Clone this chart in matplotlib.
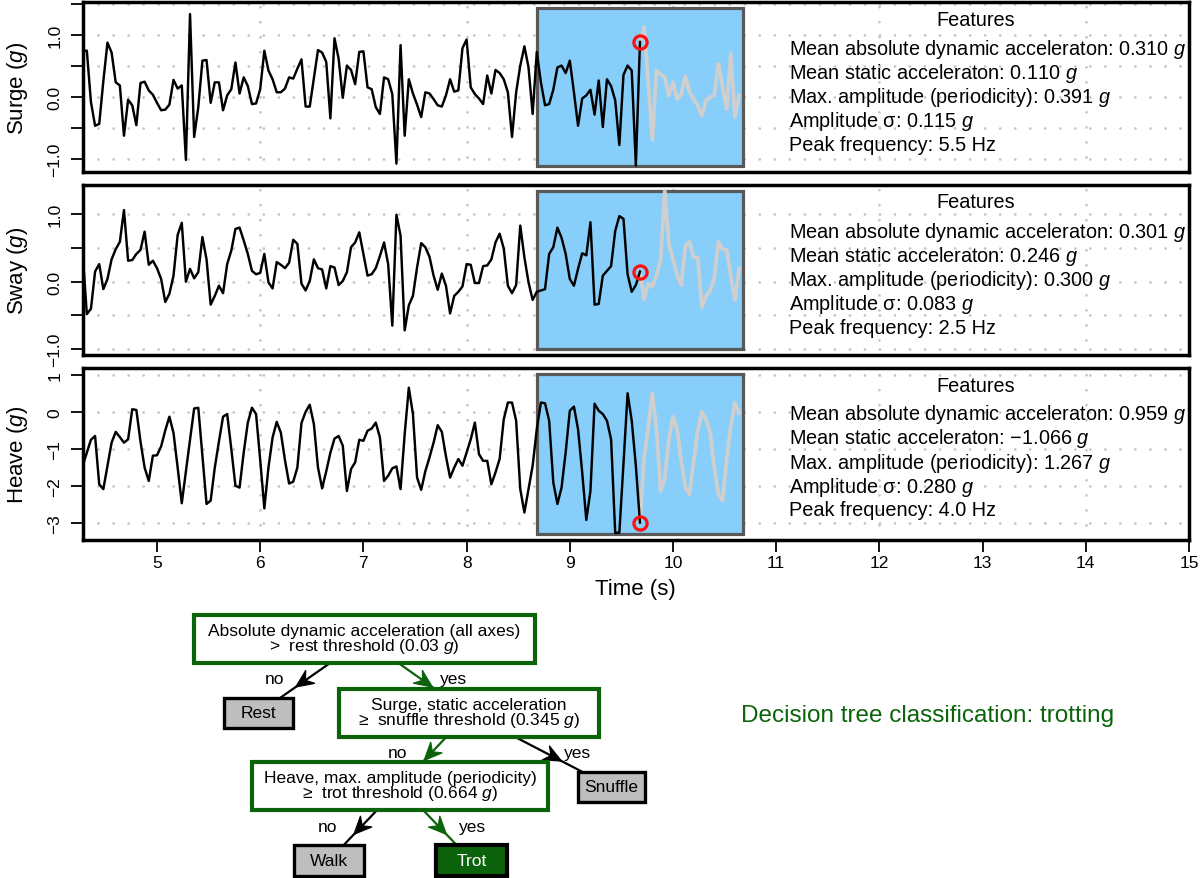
import numpy as np
import matplotlib
matplotlib.use("Agg")
import matplotlib.pyplot as plt
from matplotlib.patches import Rectangle, Polygon
import matplotlib.transforms as mtransforms

plt.rcParams['font.family'] = ['Liberation Sans', 'DejaVu Sans']
plt.rcParams['mathtext.fontset'] = 'custom'
plt.rcParams['mathtext.rm'] = 'Liberation Sans'
plt.rcParams['mathtext.it'] = 'Liberation Sans:italic'
plt.rcParams['mathtext.bf'] = 'Liberation Sans:bold'

# ---------------- data ----------------
t_start = 4.28
sample_interval = 0.04
current_index = 135          # red circle / end of past data
window_first_index = 110     # start of 2 s window
window_length = 50

surge = [0.74, 0.74, -0.09, -0.47, -0.44, 0.25, 0.87, 0.71, 0.23, 0.18,
         -0.63, -0.05, -0.14, -0.46, 0.22, 0.24, 0.10, 0.03, -0.10, -0.22,
         -0.21, -0.13, 0.27, 0.13, 0.18, -1.02, 1.33, -0.65, -0.17, 0.58,
         0.59, -0.10, 0.23, 0.23, -0.22, 0.02, 0.12, 0.55, 0.05, 0.31,
         0.17, -0.12, -0.11, 0.12, 0.74, 0.42, 0.28, 0.07, 0.07, 0.13,
         0.31, 0.29, 0.45, 0.60, -0.16, -0.16, 0.30, 0.75, 0.71, 0.56,
         -0.35, 0.94, 0.61, -0.02, 0.50, 0.43, 0.20, 0.72, 0.73, 0.15,
         0.12, -0.17, -0.28, 0.31, 0.28, 0.04, -1.08,
         0.83, -0.63, 0.28, 0.05, -0.13, -0.33, 0.07, 0.05, -0.04, -0.14,
         -0.16, 0.02, 0.28, 0.08, 0.10, 0.78, 0.92, 0.15, 0.04, -0.03,
         -0.12, 0.34, 0.05, 0.43, 0.38, 0.28, 0.07, -0.65, 0.07, 0.50,
         0.81, 0.47, -0.28, 0.72, 0.23, -0.14, -0.12, 0.11, 0.47, 0.50,
         0.38, 0.58, 0.07, -0.47, -0.03, 0.02, 0.11, -0.29, 0.26, -0.49,
         0.28, 0.17, -0.06, -0.78, 0.35, 0.50, 0.42, -1.11, 0.88,
         1.12, 0.23, -0.69, 0.42, 0.36, 0.31, 0.02, 0.23, -0.04, 0.04,
         0.33, 0.07, -0.04, -0.14, -0.31, -0.06, -0.01, 0.02, 0.53, 0.15,
         -0.20, 0.69, -0.33, 0.02]

sway = [0.41, -0.48, -0.40, 0.15, 0.26, -0.11, 0.04, 0.33, 0.48, 0.59,
        1.06, 0.31, 0.32, 0.41, 0.47, 0.74, 0.25, 0.31, 0.20, 0.04,
        -0.30, -0.18, 0.09, 0.69, 0.87, 0.00, 0.19, 0.05, 0.14, 0.66,
        0.33, -0.34, -0.21, -0.06, -0.17, 0.26, 0.46, 0.78, 0.80, 0.61,
        0.41, 0.16, 0.11, 0.13, 0.41, -0.01, -0.10, 0.29, 0.25, 0.20,
        0.28, 0.62, 0.56, -0.03, -0.13, 0.01, 0.33, 0.20, 0.18, -0.10,
        0.23, 0.21, -0.05, 0.01, 0.14, 0.51, 0.58, 0.73, 0.41, 0.09,
        0.11, 0.20, 0.38, 0.58, 0.26, -0.65, 0.99,
        0.68, -0.72, -0.35, -0.21, 0.21, 0.57, 0.51, 0.37, 0.09, -0.12,
        0.12, -0.06, -0.47, -0.21, -0.15, -0.07, 0.26, 0.25, -0.02, -0.02,
        0.23, 0.24, 0.33, 0.58, 0.71, 0.49, -0.06, -0.17, -0.05, 0.83,
        0.36, -0.01, -0.27, -0.15, -0.13, -0.11, 0.41, 0.51, 0.80, 0.65,
        0.41, 0.04, -0.06, 0.19, 0.42, 0.39, 0.88, -0.34, -0.33, 0.09,
        0.16, 0.23, 0.75, 0.97, 0.93, 0.11, -0.15, -0.05, 0.15,
        -0.26, -0.03, -0.07, 0.09, 0.33, 1.34, 0.56, 0.33, 0.09, -0.05,
        0.53, 0.59, 0.36, 0.36, -0.38, -0.21, -0.13, 0.06, 0.59, 0.48,
        0.47, 0.09, -0.27, 0.19]

heave = [-1.45, -1.10, -0.75, -0.65, -1.95, -2.08, -1.45, -0.83, -0.54, -0.68,
         -0.83, -0.74, 0.07, 0.05, -0.80, -1.50, -1.86, -1.18, -1.17, -0.93,
         -0.50, -0.13, -0.57, -1.50, -2.46, -1.60, -0.75, 0.09, 0.11, -1.20,
         -2.48, -2.39, -1.50, -0.80, -0.13, -0.06, -1.00, -1.99, -2.04, -1.10,
         -0.29, 0.11, -0.06, -1.30, -2.60, -1.50, -0.69, -0.27, -0.56, -1.30,
         -1.93, -1.88, -1.50, -0.30, 0.00, 0.19, -0.33, -1.50, -2.06, -1.60,
         -1.10, -0.72, -0.65, -0.91, -2.13, -1.54, -1.36, -0.75, -0.78, -0.51,
         -0.45, -0.29, -0.69, -1.86, -1.72, -1.52, -1.47,
         -2.08, -0.60, 0.65, -0.06, -1.77, -2.10, -1.60, -1.23, -0.83, -0.36,
         -0.54, -1.20, -1.77, -1.50, -1.27, -1.45, -1.09, -0.74, -0.29, -1.14,
         -1.32, -1.32, -1.95, -1.63, -1.27, -0.20, 0.25, 0.25, -0.24, -2.08,
         -2.71, -2.08, -1.45, -0.47, 0.25, 0.23, -0.24, -1.90, -2.48, -2.04,
         -1.09, 0.03, 0.14, -0.47, -1.63, -2.91, -2.13, 0.22, 0.03, -0.06,
         -0.24, -0.74, -3.26, -3.25, -1.40, 0.50, -0.24, -1.45, -2.98,
         -1.23, -0.42, 0.50, -0.47, -2.13, -1.81, -0.74, -0.13, -0.47, -1.32,
         -2.04, -2.22, -1.32, -0.51, 0.00, -0.20, -0.56, -1.50, -2.22, -2.39,
         -1.27, -0.38, 0.25, -0.04]

axis_names = ["Surge", "Sway", "Heave"]
feature_names = ["Mean absolute dynamic acceleraton", "Mean static acceleraton",
                 "Max. amplitude (periodicity)", "Amplitude \u03c3", "Peak frequency"]
feature_units = ["$g$", "$g$", "$g$", "$g$", "Hz"]
surge_features = ["0.310", "0.110", "0.391", "0.115", "5.5"]
sway_features = ["0.301", "0.246", "0.300", "0.083", "2.5"]
heave_features = ["0.959", "\u22121.066", "1.267", "0.280", "4.0"]

surge_yticks = [-1.0, -0.5, 0.0, 0.5, 1.0, 1.5]
surge_yticklabels = ["\u22121.0", "", "0.0", "", "1.0", ""]
sway_yticks = [-1.0, -0.5, 0.0, 0.5, 1.0]
sway_yticklabels = ["\u22121.0", "", "0.0", "", "1.0"]
heave_yticks = [-3, -2, -1, 0, 1]
heave_yticklabels = ["\u22123", "\u22122", "\u22121", "0", "1"]
ylims = [(-1.21, 1.52), (-1.08, 1.43), (-3.45, 1.18)]
xlim = (4.28, 15.0)
x_ticks = [5, 6, 7, 8, 9, 10, 11, 12, 13, 14, 15]
x_grid = [6, 8, 10, 12, 14]

# decision tree
tree_nodes = {
    "root": "Absolute dynamic acceleration (all axes)\n>  rest threshold (0.03 $g$)",
    "rest": "Rest",
    "surge": "Surge, static acceleration\n\u2265  snuffle threshold (0.345 $g$)",
    "snuffle": "Snuffle",
    "heave": "Heave, max. amplitude (periodicity)\n\u2265  trot threshold (0.664 $g$)",
    "walk": "Walk",
    "trot": "Trot",
}
tree_edges = [("root", "rest", "no"), ("root", "surge", "yes"),
              ("surge", "heave", "no"), ("surge", "snuffle", "yes"),
              ("heave", "walk", "no"), ("heave", "trot", "yes")]
decision_path = ["root", "surge", "heave", "trot"]
classification = "Decision tree classification: trotting"

# layout (pixel positions of tree boxes: centre x, centre y, width, height)
node_layout = {
    "root": (364.5, 640, 341, 48),
    "rest": (258.5, 714, 69, 30),
    "surge": (469, 714, 260, 48),
    "snuffle": (611.5, 788, 67, 30),
    "heave": (400, 787, 296, 48),
    "walk": (329, 861.5, 70, 31),
    "trot": (471.5, 861.5, 71, 31),
}

GREEN = '#0b640b'
W, H = 1200, 879
fig = plt.figure(figsize=(W / 100, H / 100), dpi=100)


def px_axes(left, top, right, bottom):
    return fig.add_axes([left / W, 1 - bottom / H, (right - left) / W, (bottom - top) / H])


panel_px = [(82.7, 3.3, 1189, 172.7), (82.7, 186, 1189, 355.7), (82.7, 369, 1189, 541)]
series = [surge, sway, heave]
feats = [surge_features, sway_features, heave_features]
yt = [surge_yticks, sway_yticks, heave_yticks]
ytl = [surge_yticklabels, sway_yticklabels, heave_yticklabels]

for k in range(3):
    ax = px_axes(*panel_px[k])
    y = np.array(series[k])
    t = t_start + sample_interval * np.arange(len(y))
    ax.set_xlim(*xlim)
    ax.set_ylim(*ylims[k])
    # dotted grid
    for gy in yt[k]:
        ax.axhline(gy, color='#c4c4c4', lw=2.0, ls=(0, (0.01, 5.4)),
                   dash_capstyle='round', zorder=0.5)
    for gx in x_grid:
        ax.axvline(gx, color='#c4c4c4', lw=2.0, ls=(0, (0.01, 5.4)),
                   dash_capstyle='round', zorder=0.5)
    # window box
    trans = mtransforms.blended_transform_factory(ax.transData, ax.transAxes)
    x0 = t[window_first_index]
    box = Rectangle((x0, 0.035), window_length * sample_interval, 0.93, transform=trans,
                    facecolor='#87cefa', edgecolor='#595959', lw=2.3, zorder=1)
    ax.add_patch(box)
    # future (grey) and past (black)
    ax.plot(t[current_index:], y[current_index:], color='#cfcfcf', lw=2.7,
            solid_joinstyle='round', zorder=2)
    ax.plot(t[:current_index + 1], y[:current_index + 1], color='black', lw=1.75,
            solid_joinstyle='round', zorder=3)
    ax.plot([t[current_index]], [y[current_index]], 'o', ms=9.5, mfc='none',
            mec='#ff1010', mew=2.3, zorder=4)
    # axes styling
    for sp in ax.spines.values():
        sp.set_linewidth(2.5)
    ax.set_yticks(yt[k])
    ax.set_yticklabels(ytl[k], rotation=90, va='center')
    ax.tick_params(axis='y', direction='out', length=8.5, width=1.3, labelsize=12.5, pad=6)
    if k < 2:
        ax.set_xticks([])
    else:
        ax.set_xticks(x_ticks)
        ax.set_xticklabels([str(v) for v in x_ticks])
        ax.tick_params(axis='x', direction='out', length=8.5, width=1.3, labelsize=12.5, pad=2.5)
        ax.set_xlabel("Time (s)", fontsize=16, va='center')
        ax.xaxis.set_label_coords(0.5, -49 / 172)
    ax.set_ylabel(f"{axis_names[k]} ($g$)", fontsize=16, va='center')
    ax.yaxis.set_label_coords((17 - 82.7) / 1106.3, 0.5)
    # features text
    xc = xlim[0] + (976 - 82.7) / 1106.3 * (xlim[1] - xlim[0])
    xl = xlim[0] + (789 - 82.7) / 1106.3 * (xlim[1] - xlim[0])
    ax.annotate("Features", xy=(xc, 1), xycoords=('data', 'axes fraction'),
                xytext=(0, -17 * 0.72), textcoords='offset points',
                ha='center', va='center', fontsize=14.3, zorder=5)
    offs = [46, 70, 94.5, 118.5, 142]
    for j in range(5):
        txt = f"{feature_names[j]}: {feats[k][j]} {feature_units[j]}"
        ax.annotate(txt, xy=(xl, 1), xycoords=('data', 'axes fraction'),
                    xytext=(0, -offs[j] * 0.72), textcoords='offset points',
                    ha='left', va='center', fontsize=14.3, zorder=5)

# ---------------- decision tree ----------------
axt = fig.add_axes([0, 0, 1, 1])
axt.set_xlim(0, W)
axt.set_ylim(H, 0)
axt.axis('off')


def on_path(a, b):
    return a in decision_path and b in decision_path


for a, b, lab in tree_edges:
    xa, ya = node_layout[a][:2]
    xb, yb = node_layout[b][:2]
    col = GREEN if on_path(a, b) else 'black'
    axt.plot([xa, xb], [ya, yb], color=col, lw=1.6, zorder=1)
    d = np.array([xb - xa, yb - ya], dtype=float)
    L = np.hypot(*d)
    u = d / L
    nrm = np.array([-u[1], u[0]])
    tip = np.array([xa, ya]) + 0.65 * d
    hl, hw, notch = 18, 8, 6
    base = tip - u * hl
    poly = [tip, base + nrm * hw, tip - u * (hl - notch), base - nrm * hw]
    axt.add_patch(Polygon(poly, closed=True, facecolor=col, edgecolor=col, lw=0.8, zorder=1.5))
    mx, my = (xa + xb) / 2, (ya + yb) / 2
    side = -1 if xb < xa else 1
    axt.text(mx + side * 37, my + 3, lab, ha='center', va='center', fontsize=12.5, zorder=3)

for name, label in tree_nodes.items():
    cx, cy, w, h = node_layout[name]
    if "\n" in label:
        fc, ec, lw = 'white', GREEN, 3.0
    elif name in decision_path:
        fc, ec, lw = GREEN, 'black', 3.0
    else:
        fc, ec, lw = '#bebebe', 'black', 2.4
    axt.add_patch(Rectangle((cx - w / 2, cy - h / 2), w, h, facecolor=fc, edgecolor=ec,
                            lw=lw, zorder=2, joinstyle='miter'))
    tcol = 'white' if fc == GREEN else 'black'
    axt.text(cx, cy, label, ha='center', va='center', fontsize=12.5, color=tcol,
             linespacing=0.88, multialignment='center', zorder=3)

axt.text(741, 716, classification, ha='left', va='center', fontsize=17.5, color=GREEN)

fig.savefig("out.png", dpi=100)
